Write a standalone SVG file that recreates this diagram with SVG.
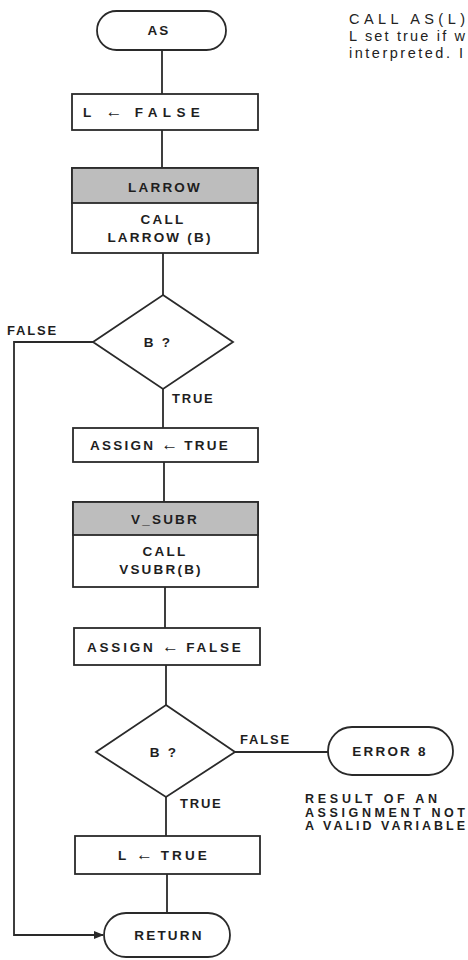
<svg xmlns="http://www.w3.org/2000/svg" width="468" height="960" viewBox="0 0 468 960">
<style>
.box{fill:#fff;stroke:#2a2a2a;stroke-width:1.8}
.hdr{fill:#bdbdbd;stroke:#2a2a2a;stroke-width:1.8}
.ln{fill:none;stroke:#2a2a2a;stroke-width:1.8}
.t{font-family:"Liberation Sans",Arial,sans-serif;font-weight:bold;font-size:13.5px;letter-spacing:2.2px;fill:#1e1e1e;text-anchor:middle}
.ar{font-size:17px;letter-spacing:0}
.lab{font-family:"Liberation Sans",Arial,sans-serif;font-weight:bold;font-size:13px;letter-spacing:1.8px;fill:#1e1e1e}
.note{font-family:"Liberation Sans",Arial,sans-serif;font-weight:bold;font-size:12.5px;fill:#1e1e1e}
.cap{font-family:"Liberation Sans",Arial,sans-serif;font-size:14.5px;fill:#222}
</style>
<defs>
<marker id="ah" markerWidth="10" markerHeight="8" refX="9" refY="4" orient="auto" markerUnits="userSpaceOnUse">
<path d="M0,0 L10,4 L0,8 Z" fill="#2a2a2a"/>
</marker>
</defs>

<g id="caption">
<text class="cap" x="349" y="24" textLength="116" lengthAdjust="spacing">CALL AS(L)</text>
<text class="cap" x="349" y="41" textLength="116" lengthAdjust="spacing">L set true if w</text>
<text class="cap" x="349" y="58" textLength="114" lengthAdjust="spacing">interpreted. I</text>
</g>

<g id="connectors">
<line class="ln" x1="162" y1="50" x2="162" y2="94"/>
<line class="ln" x1="162" y1="130" x2="162" y2="168"/>
<line class="ln" x1="163" y1="253" x2="163" y2="295"/>
<line class="ln" x1="163" y1="389" x2="163" y2="428"/>
<line class="ln" x1="164" y1="462" x2="164" y2="502"/>
<line class="ln" x1="165" y1="587" x2="165" y2="628"/>
<line class="ln" x1="166" y1="665" x2="166" y2="705"/>
<line class="ln" x1="166" y1="797" x2="166" y2="836"/>
<line class="ln" x1="167" y1="874" x2="167" y2="913"/>
<line class="ln" x1="235" y1="752" x2="328" y2="752"/>
<polyline class="ln" points="93,342 14,342 14,935 103,935" marker-end="url(#ah)"/>
<text class="lab" x="7" y="335">FALSE</text>
<text class="lab" x="172" y="403">TRUE</text>
<text class="lab" x="240" y="744">FALSE</text>
<text class="lab" x="180" y="808">TRUE</text>
</g>

<g id="as">
<rect class="box" x="97" y="11" width="129" height="39" rx="19.5"/>
<text class="t" x="159" y="35">AS</text>
</g>

<g id="l-false">
<rect class="box" x="72" y="94" width="186" height="36"/>
<text class="t" x="83" y="117" style="text-anchor:start" textLength="119" lengthAdjust="spacing">L <tspan class="ar">←</tspan> FALSE</text>
</g>

<g id="larrow">
<rect class="box" x="72" y="168" width="186" height="85"/>
<rect class="hdr" x="72" y="168" width="186" height="35"/>
<text class="t" x="165" y="192">LARROW</text>
<text class="t" x="163" y="224">CALL</text>
<text class="t" x="160" y="242">LARROW (B)</text>
</g>

<g id="b1">
<polygon class="box" points="163,295 233,342 163,389 93,342"/>
<text class="t" x="158" y="347">B ?</text>
</g>

<g id="assign-true">
<rect class="box" x="73" y="428" width="185" height="34"/>
<text class="t" x="90" y="450" style="text-anchor:start" textLength="140" lengthAdjust="spacing">ASSIGN <tspan class="ar">←</tspan> TRUE</text>
</g>

<g id="vsubr">
<rect class="box" x="73" y="502" width="185" height="85"/>
<rect class="hdr" x="73" y="502" width="185" height="33"/>
<text class="t" x="165" y="524">V_SUBR</text>
<text class="t" x="165" y="556">CALL</text>
<text class="t" x="161" y="574">VSUBR(B)</text>
</g>

<g id="assign-false">
<rect class="box" x="74" y="628" width="186" height="37"/>
<text class="t" x="87" y="652" style="text-anchor:start" textLength="156" lengthAdjust="spacing">ASSIGN <tspan class="ar">←</tspan> FALSE</text>
</g>

<g id="b2">
<polygon class="box" points="166,705 235,752 166,797 96,752"/>
<text class="t" x="164" y="757">B ?</text>
</g>

<g id="error8">
<rect class="box" x="328" y="727" width="125" height="48" rx="24"/>
<text class="t" x="390" y="756">ERROR 8</text>
<text class="note" x="305" y="803" textLength="132" lengthAdjust="spacing">RESULT OF AN</text>
<text class="note" x="305" y="816.5" textLength="160" lengthAdjust="spacing">ASSIGNMENT NOT</text>
<text class="note" x="305" y="830" textLength="160" lengthAdjust="spacing">A VALID VARIABLE</text>
</g>

<g id="l-true">
<rect class="box" x="75" y="836" width="185" height="38"/>
<text class="t" x="118" y="860" style="text-anchor:start" textLength="91" lengthAdjust="spacing">L <tspan class="ar">←</tspan> TRUE</text>
</g>

<g id="return">
<rect class="box" x="104" y="913" width="126" height="44" rx="22"/>
<text class="t" x="169" y="940">RETURN</text>
</g>
</svg>
